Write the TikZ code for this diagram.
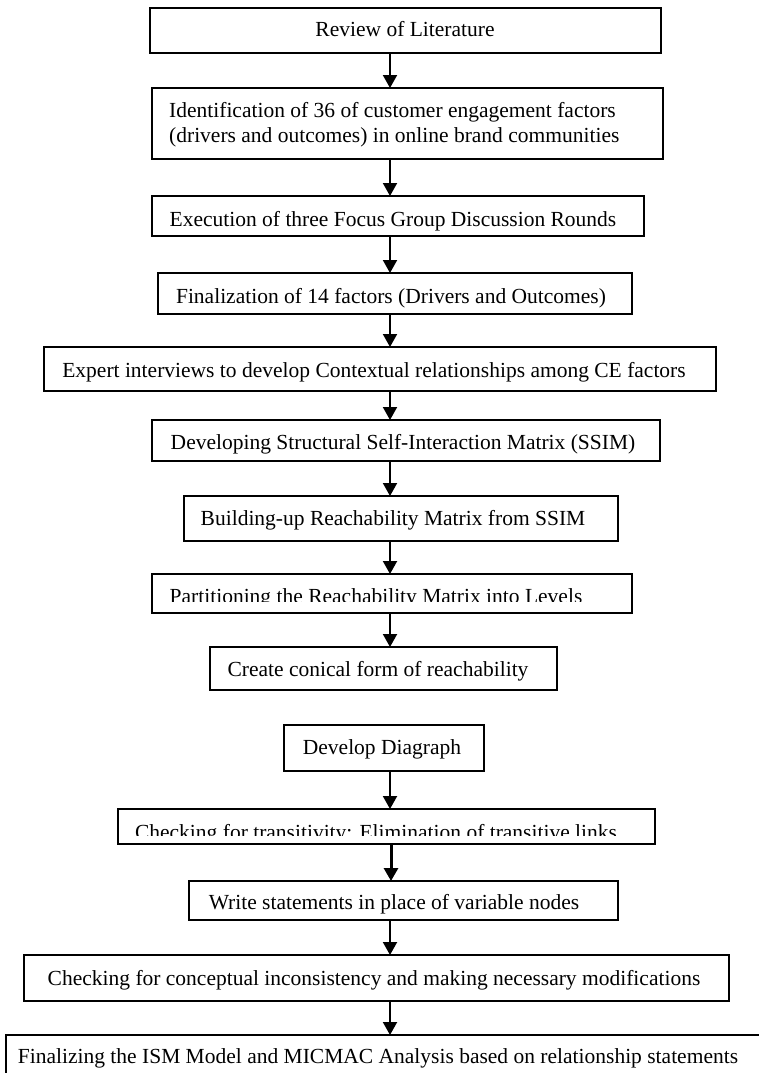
\documentclass[tikz,border=0pt]{standalone}
\usepackage{fontspec}
\setmainfont{Liberation Serif}
\usetikzlibrary{arrows.meta}
\begin{document}
\begin{tikzpicture}[x=1pt,y=-1pt,
  box/.style={draw, line width=1.9pt, inner sep=0pt, outer sep=0pt},
  txt/.style={inner sep=0pt, anchor=base, font=\fontsize{21.5}{25}\selectfont},
  txtl/.style={inner sep=0pt, anchor=base west, font=\fontsize{21.5}{25}\selectfont},
  arr/.style={line width=2pt, -{Triangle[width=14pt,length=13pt]}},
  arrb/.style={line width=3pt, -{Triangle[width=14pt,length=13pt]}}]
\useasboundingbox (0,0) rectangle (758,1073);
\fill[white] (0,0) rectangle (758,1073);
\coordinate (ax) at (390,0);
\coordinate (axb) at (391,0);
% boxes
\node[box, minimum width=511pt, minimum height=45pt] (b1) at (405.5,30.5) {};
\node[box, minimum width=511pt, minimum height=71pt] (b2) at (407.5,123.5) {};
\node[box, minimum width=492pt, minimum height=40pt] (b3) at (398,216) {};
\node[box, minimum width=474pt, minimum height=41pt] (b4) at (395,293.5) {};
\node[box, minimum width=672pt, minimum height=44pt] (b5) at (380,369) {};
\node[box, minimum width=508pt, minimum height=41pt] (b6) at (406,440.5) {};
\node[box, minimum width=434pt, minimum height=45pt] (b7) at (401,518.5) {};
\node[box, minimum width=480pt, minimum height=39pt] (b8) at (392,593.5) {};
\node[box, minimum width=347pt, minimum height=43pt] (b9) at (383.5,668.5) {};
\node[box, minimum width=200pt, minimum height=46pt] (b10) at (384,748) {};
\node[box, minimum width=537pt, minimum height=35pt] (b11) at (386.5,826.5) {};
\node[box, minimum width=429pt, minimum height=39pt] (b12) at (403.5,900.5) {};
\node[box, minimum width=705pt, minimum height=46pt] (b13) at (376.5,978) {};
\node[box, minimum width=774pt, minimum height=55pt] (b14) at (393,1062.5) {};
% texts
\node[txt] (t1) at (405,37) {Review of Literature};
\node[txtl] (t2a) at (169,117) {Identification of 36 of customer engagement factors};
\node[txtl] (t2b) at (169,142) {(drivers and outcomes) in online brand communities};
\node[txt] (t3) at (393,226) {Execution of three Focus Group Discussion Rounds};
\node[txt] (t4) at (391,303) {Finalization of 14 factors (Drivers and Outcomes)};
\node[txt] (t5) at (374,377) {Expert interviews to develop Contextual relationships among CE factors};
\node[txt] (t6) at (403,449) {Developing Structural Self-Interaction Matrix (SSIM)};
\node[txt] (t7) at (393,525) {Building-up Reachability Matrix from SSIM};
\begin{scope}
\clip (150,576) rectangle (640,601);
\node[txt] (t8) at (376,603) {Partitioning the Reachability Matrix into Levels};
\end{scope}
\node[txt] (t9) at (378,676) {Create conical form of reachability};
\node[txt] (t10) at (382,754) {Develop Diagraph};
\begin{scope}
\clip (120,811) rectangle (650,835);
\node[txt] (t11) at (376,839) {Checking for transitivity: Elimination of transitive links};
\end{scope}
\node[txt] (t12) at (394,909) {Write statements in place of variable nodes};
\node[txt] (t13) at (374,985) {Checking for conceptual inconsistency and making necessary modifications};
\node[txt] (t14) at (378,1063) {Finalizing the ISM Model and MICMAC Analysis based on relationship statements};
% arrows
\draw[arr] (b1.south -| ax) -- (b2.north -| ax);
\draw[arr] (b2.south -| ax) -- (b3.north -| ax);
\draw[arr] (b3.south -| ax) -- (b4.north -| ax);
\draw[arr] (b4.south -| ax) -- (b5.north -| ax);
\draw[arr] (b5.south -| ax) -- (b6.north -| ax);
\draw[arr] (b6.south -| ax) -- (b7.north -| ax);
\draw[arr] (b7.south -| ax) -- (b8.north -| ax);
\draw[arr] (b8.south -| ax) -- (b9.north -| ax);
\draw[arr] (b10.south -| ax) -- (b11.north -| ax);
\draw[arrb] (b11.south -| axb) -- (b12.north -| axb);
\draw[arr] (b12.south -| ax) -- (b13.north -| ax);
\draw[arr] (b13.south -| ax) -- (b14.north -| ax);
\end{tikzpicture}
\end{document}
